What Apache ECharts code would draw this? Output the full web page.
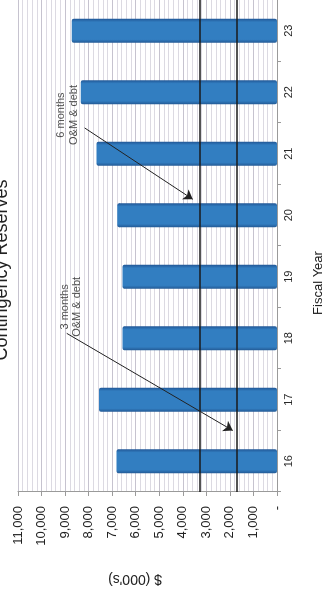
<!DOCTYPE html>
<html>
<head>
<meta charset="utf-8">
<script src="https://cdn.jsdelivr.net/npm/echarts@6/dist/echarts.min.js"></script>
<style>
  html, body { margin: 0; padding: 0; background: #fff; overflow: hidden; width: 327px; height: 592px; }
  /* The chart is laid out landscape and turned a quarter turn for the portrait page */
  #chart {
    position: absolute; left: 0; top: 0;
    width: 592px; height: 327px;
    transform-origin: 0 0;
    transform: translateY(592px) rotate(-90deg);
  }
</style>
</head>
<body>
<div id="chart"></div>
<script>
// Fiscal years and contingency reserve balances ($000's)
const fiscalYears = ['16', '17', '18', '19', '20', '21', '22', '23'];
const reserves = [6820, 7560, 6560, 6560, 6780, 7670, 8340, 8720];

// Value axis range and step
const valueMin = 0;
const valueMax = 11000;
const valueStep = 1000;

// Reserve targets: 6 months and 3 months of O&M & debt service
const sixMonthLevel = 3260;
const threeMonthLevel = 1700;

// Callout notes: text, anchor [year position, $000's], arrow start and arrow tip
const noteTexts = ['3 months\nO&M & debt', '6 months\nO&M & debt'];
const noteAnchors = [[2.51, 8750], [5.63, 8890]];
const arrowFrom = [[2.08, 8930], [5.42, 8170]];
const arrowTo = [[0.50, 1880], [4.26, 3580]];

const FONT = '"Liberation Sans", Arial, sans-serif';
const INK = '#222';
const AXIS_GREY = '#9a9a9a';

const chart = echarts.init(document.getElementById('chart'), null, {
  width: 592, height: 327, renderer: 'canvas'
});

chart.setOption({
  animation: false,
  backgroundColor: '#fff',
  textStyle: { fontFamily: FONT, color: INK },
  grid: { left: 100, right: 0, top: 18, bottom: 50, containLabel: false },
  xAxis: [
    {
      type: 'category',
      data: fiscalYears,
      axisLine: { show: true, onZero: false, lineStyle: { color: AXIS_GREY, width: 1 } },
      axisTick: { show: true, alignWithLabel: false, length: 4, lineStyle: { color: AXIS_GREY } },
      axisLabel: { fontSize: 11, color: INK, margin: 6, fontFamily: FONT },
      splitLine: { show: false }
    },
    {
      // continuous helper scale across the year slots, used for callouts
      type: 'value', min: -0.5, max: 7.5, show: false
    }
  ],
  yAxis: {
    type: 'value',
    min: valueMin,
    max: valueMax,
    interval: valueStep,
    axisLine: { show: true, onZero: false, lineStyle: { color: AXIS_GREY, width: 1 } },
    axisTick: { show: true, length: 4, lineStyle: { color: AXIS_GREY } },
    axisLabel: {
      fontSize: 13, color: INK, margin: 14, fontFamily: FONT,
      formatter: v => (v === 0 ? '-' : v.toLocaleString('en-US'))
    },
    splitLine: { show: true, lineStyle: { color: '#c6c3cf', width: 1 } },
    minorTick: { show: false, splitNumber: 5 },
    minorSplitLine: { show: true, lineStyle: { color: '#dcdae2', width: 1 } }
  },
  series: [
    {
      type: 'bar',
      data: reserves,
      barWidth: 24,
      itemStyle: {
        borderRadius: 2,
        color: {
          type: 'linear', x: 0, y: 0, x2: 1, y2: 0,
          colorStops: [
            { offset: 0, color: '#235a95' },
            { offset: 0.14, color: '#327ec1' },
            { offset: 0.86, color: '#327ec1' },
            { offset: 1, color: '#215796' }
          ]
        }
      },
      markLine: {
        silent: true,
        symbol: 'none',
        label: { show: false },
        lineStyle: { color: '#1a1a1a', width: 1.5, type: 'solid' },
        data: [{ yAxis: sixMonthLevel }, { yAxis: threeMonthLevel }],
        z: 5
      }
    },
    {
      type: 'lines',
      coordinateSystem: 'cartesian2d',
      xAxisIndex: 1,
      yAxisIndex: 0,
      symbol: ['none', 'arrow'],
      symbolSize: [0, 9],
      lineStyle: { color: INK, width: 1, opacity: 1, curveness: 0 },
      data: arrowFrom.map((p, i) => ({ coords: [p, arrowTo[i]] })),
      z: 6
    },
    {
      type: 'scatter',
      xAxisIndex: 1,
      yAxisIndex: 0,
      symbolSize: 0,
      silent: true,
      data: noteAnchors.map((c, i) => ({ value: c, name: noteTexts[i] })),
      label: {
        show: true,
        position: 'inside',
        formatter: '{b}',
        fontSize: 11,
        lineHeight: 12.5,
        align: 'center',
        color: INK,
        fontFamily: FONT
      },
      z: 7
    }
  ],
  graphic: [
    {
      type: 'text', x: 322, y: 11.5,
      style: { text: 'Contingency Reserves', fontSize: 18, fontFamily: FONT, fill: INK, align: 'center', verticalAlign: 'bottom' }
    },
    {
      type: 'text', x: 309, y: 318,
      style: { text: 'Fiscal Year', fontSize: 13, fontFamily: FONT, fill: INK, align: 'center', verticalAlign: 'middle' }
    },
    {
      type: 'text', x: 13, y: 135, rotation: Math.PI / 2,
      style: { text: "$ (000's)", fontSize: 14, fontFamily: FONT, fill: INK, align: 'center', verticalAlign: 'middle' }
    }
  ]
});
</script>
</body>
</html>
